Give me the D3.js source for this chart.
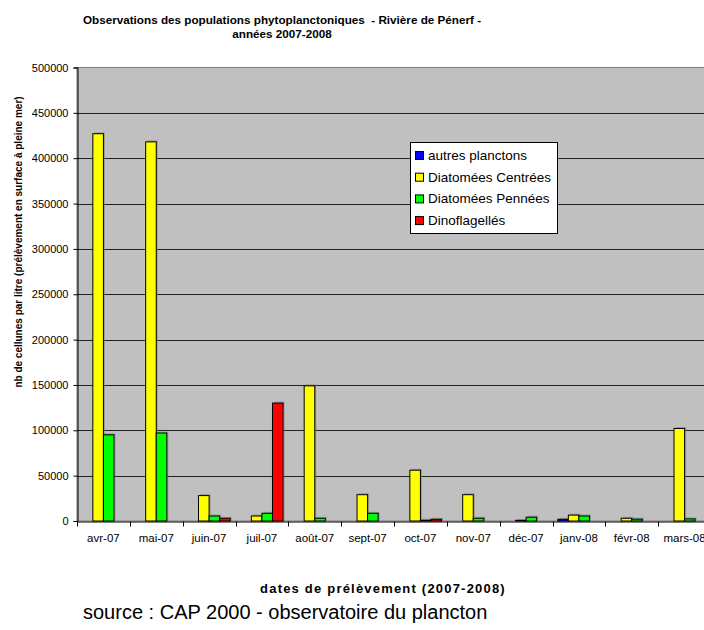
<!DOCTYPE html>
<meta charset="utf-8">
<style>
body { margin: 0; background: #fff; font-family: Arial, "Liberation Sans", sans-serif; }
svg { display: block; }
.grid line { stroke: #222; stroke-width: 1px; }
.axis text { fill: #000; }
</style>
<body>
<script src="https://d3js.org/d3.v7.min.js"></script>
<script>

// data
let months = ["avr-07", "mai-07", "juin-07", "juil-07", "août-07", "sept-07",
              "oct-07", "nov-07", "déc-07", "janv-08", "févr-08", "mars-08"];
let seriesNames = ["autres planctons", "Diatomées Centrées", "Diatomées Pennées", "Dinoflagellés"];
let autres     = [0, 0, 0, 0, 0, 0, 0, 0, 0, 1900, 0, 0];
let centrees   = [427000, 418000, 28000, 5500, 149000, 29000, 56000, 29000, 700, 6500, 3000, 102000];
let pennees    = [95000, 97000, 5500, 8500, 3000, 8500, 800, 3000, 4200, 5500, 2000, 2300];
let dinos      = [0, 0, 3000, 130000, 0, 0, 1900, 0, 0, 0, 0, 0];
let yTicks = [0, 50000, 100000, 150000, 200000, 250000, 300000, 350000, 400000, 450000, 500000];
let colors = ["#0000FF", "#FFFF00", "#00FF00", "#FF0000"];

let width = 704, height = 630;
let pLeft = 77, pRight = 711, pTop = 67.5, pBottom = 521;

let svg = d3.select("body").append("svg")
	.attr("width", width)
	.attr("height", height);

let x = d3.scaleBand()
	.domain(months)
	.range([pLeft, pRight]);

let x1 = d3.scaleBand()
	.domain(seriesNames)
	.range([0, x.bandwidth()])
	.paddingOuter(0.5);

let y = d3.scaleLinear()
	.domain([0, 500000])
	.range([pBottom, pTop]);

// plot background
svg.append("rect")
	.attr("x", pLeft).attr("y", pTop)
	.attr("width", pRight - pLeft).attr("height", pBottom - pTop)
	.attr("fill", "#C0C0C0")
	.attr("stroke", "#808080");

// gridlines
svg.append("g").attr("class", "grid")
	.selectAll("line")
	.data(yTicks.slice(1, -1))
	.enter().append("line")
	.attr("x1", pLeft).attr("x2", pRight)
	.attr("y1", d => Math.round(y(d)) + 0.5)
	.attr("y2", d => Math.round(y(d)) + 0.5);

// bars
let data = months.map(function(m, i) {
	return { month: m, values: [autres[i], centrees[i], pennees[i], dinos[i]] };
});

let group = svg.append("g").selectAll("g")
	.data(data)
	.enter().append("g")
	.attr("transform", d => "translate(" + x(d.month) + ",0)");

let bars = group.selectAll("g")
	.data(d => d.values.map((v, k) => ({ name: seriesNames[k], value: v, k: k })).filter(b => b.value > 0))
	.enter().append("g");

// soft shadow
bars.append("rect")
	.attr("x", d => x1(d.name) + 1.5)
	.attr("y", d => y(d.value) - 1.5)
	.attr("width", x1.bandwidth())
	.attr("height", d => pBottom - y(d.value) + 1.5)
	.attr("fill", "#808080")
	.attr("opacity", 0.6);

bars.append("rect")
	.attr("x", d => x1(d.name))
	.attr("y", d => y(d.value))
	.attr("width", x1.bandwidth())
	.attr("height", d => pBottom - y(d.value))
	.attr("fill", d => colors[d.k])
	.attr("stroke", "#000")
	.attr("stroke-width", 1);

// y axis
let yAxis = d3.axisLeft(y)
	.tickValues(yTicks)
	.tickSize(4)
	.tickPadding(5)
	.tickFormat(d3.format("d"));

svg.append("g").attr("class", "axis")
	.attr("transform", "translate(" + (pLeft + 0.5) + ",0)")
	.call(yAxis)
	.call(g => g.selectAll("text").style("font-size", "11px"))
	.call(g => g.select(".domain").attr("stroke", "#000"));

// x axis
let xAxis = d3.axisBottom(x)
	.tickSize(0)
	.tickPadding(12);

let xg = svg.append("g").attr("class", "axis")
	.attr("transform", "translate(0," + (pBottom + 0.5) + ")")
	.call(xAxis);
xg.selectAll("text").style("font-size", "11.5px");
xg.select(".domain").attr("stroke", "#000");

// tick marks between categories
xg.selectAll("line.sep")
	.data(months.concat(["end"]))
	.enter().append("line")
	.attr("class", "sep")
	.attr("x1", (d, i) => Math.round(pLeft + i * x.step()) + 0.5)
	.attr("x2", (d, i) => Math.round(pLeft + i * x.step()) + 0.5)
	.attr("y1", 0).attr("y2", 5)
	.attr("stroke", "#000");

// title
let title = svg.append("text")
	.attr("text-anchor", "middle")
	.style("font-size", "11.7px")
	.style("font-weight", "bold")
	.style("white-space", "pre");
title.append("tspan").attr("x", 282).attr("y", 24)
	.text("Observations des populations phytoplanctoniques  - Rivière de Pénerf -");
title.append("tspan").attr("x", 282).attr("y", 38).text("années 2007-2008");

// axis titles
svg.append("text")
	.attr("transform", "translate(22,242) rotate(-90)")
	.attr("text-anchor", "middle")
	.style("font-size", "10px")
	.style("font-weight", "bold")
	.text("nb de cellunes par litre (prélèvement en surface à pleine mer)");

svg.append("text")
	.attr("x", 383).attr("y", 593)
	.attr("text-anchor", "middle")
	.style("font-size", "13px")
	.style("font-weight", "bold")
	.style("letter-spacing", "1.2px")
	.text("dates de prélèvement (2007-2008)");

svg.append("text")
	.attr("x", 83).attr("y", 619)
	.style("font-size", "20px")
	.text("source : CAP 2000 - observatoire du plancton");

// legend
let lg = svg.append("g").attr("transform", "translate(410,142)");
lg.append("rect")
	.attr("x", 0.5).attr("y", 0.5)
	.attr("width", 147).attr("height", 91)
	.attr("fill", "#fff")
	.attr("stroke", "#000");

let item = lg.selectAll("g.item")
	.data(seriesNames)
	.enter().append("g")
	.attr("class", "item")
	.attr("transform", (d, i) => "translate(5," + (13 + i * 21.7) + ")");

item.append("rect")
	.attr("x", 0.5).attr("y", -3.5)
	.attr("width", 8).attr("height", 8)
	.attr("fill", (d, i) => colors[i])
	.attr("stroke", "#000");

item.append("text")
	.attr("x", 13).attr("y", 5)
	.style("font-size", "13.5px")
	.text(d => d);

</script>
</body>
